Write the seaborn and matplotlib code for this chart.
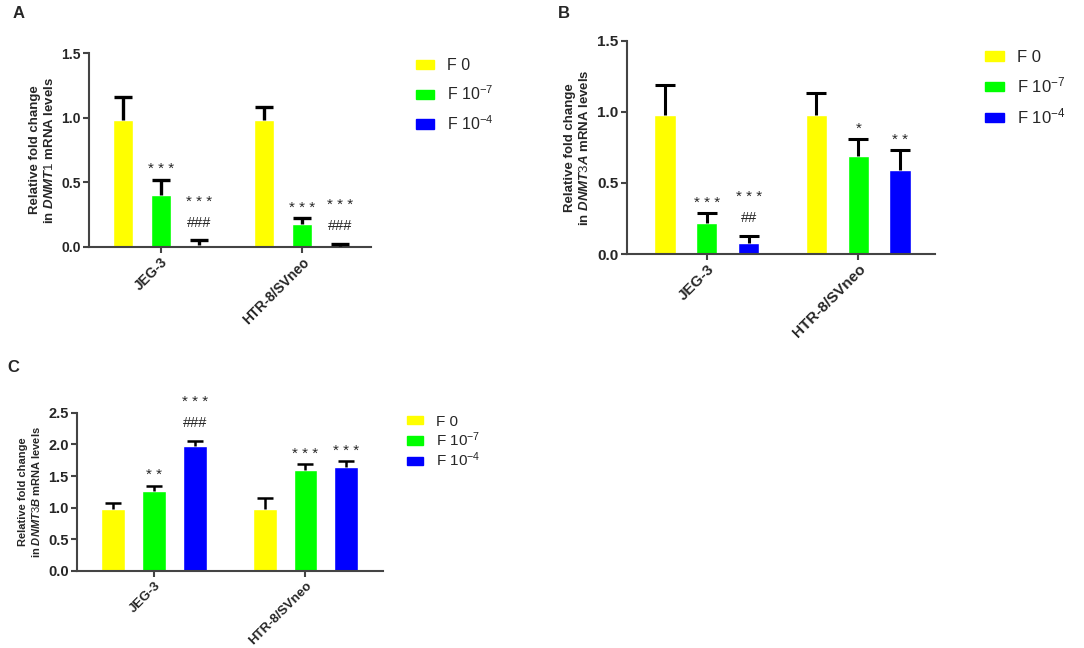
import numpy as np
import pandas as pd
import matplotlib
matplotlib.use("Agg")
import matplotlib.pyplot as plt
import matplotlib.patches as mpatches
import seaborn as sns

# data
cell_lines = ["JEG-3", "HTR-8/SVneo"]
treatments = ["F 0", "F 10$^{-7}$", "F 10$^{-4}$"]
colors = ["#FFFF00", "#00FF00", "#0000FF"]

# rows = cell line, columns = treatment
dnmt1_mean = [[0.98, 0.40, 0.015], [0.98, 0.175, 0.004]]
dnmt1_err = [[0.18, 0.12, 0.035], [0.10, 0.045, 0.022]]
dnmt1_stars = [["", "***", "***"], ["", "***", "***"]]
dnmt1_hash = [["", "", "###"], ["", "", "###"]]

dnmt3a_mean = [[0.98, 0.215, 0.08], [0.98, 0.69, 0.59]]
dnmt3a_err = [[0.21, 0.075, 0.05], [0.15, 0.12, 0.14]]
dnmt3a_stars = [["", "***", "***"], ["", "*", "**"]]
dnmt3a_hash = [["", "", "##"], ["", "", ""]]

dnmt3b_mean = [[0.98, 1.26, 1.98], [0.98, 1.60, 1.65]]
dnmt3b_err = [[0.10, 0.09, 0.08], [0.18, 0.09, 0.08]]
dnmt3b_stars = [["", "**", "***"], ["", "***", "***"]]
dnmt3b_hash = [["", "", "###"], ["", "", ""]]

sns.set_style("ticks")
plt.rcParams['font.family'] = ['Liberation Sans', 'DejaVu Sans']
plt.rcParams['mathtext.fontset'] = 'custom'
plt.rcParams['mathtext.default'] = 'regular'
plt.rcParams['mathtext.rm'] = 'Liberation Sans'
plt.rcParams['mathtext.it'] = 'Liberation Sans:italic:bold'
plt.rcParams['mathtext.bf'] = 'Liberation Sans:bold'


def make_df(means):
    rows = []
    for i, cl in enumerate(cell_lines):
        for j, tr in enumerate(treatments):
            rows.append({"cell": cl, "treatment": tr, "value": means[i][j]})
    return pd.DataFrame(rows)


def draw_panel(ax, means, errs, stars, hashes, gene, ymax, ystep, xlim,
               width, gap, elw, cap, tick_fs, xtick_fs, lab_fs, leg_anchor, leg_fs, leg_space):
    df = make_df(means)
    sns.barplot(data=df, x="cell", y="value", hue="treatment", order=cell_lines,
                hue_order=treatments, palette=colors, errorbar=None,
                width=width, gap=gap, saturation=1, legend=False, ax=ax)
    bars = sorted(ax.patches, key=lambda p: p.get_x())
    xs = np.array([b.get_x() + b.get_width() / 2 for b in bars])
    flat_mean = np.array([v for row in means for v in row])
    flat_err = np.array([v for row in errs for v in row])
    flat_star = [v for row in stars for v in row]
    flat_hash = [v for row in hashes for v in row]
    tops = flat_mean + flat_err
    # upper-only error bars (stem + one cap)
    ax.vlines(xs, flat_mean, tops, color="black", lw=elw, zorder=3)
    ax.plot(xs, tops, ls="none", marker="_", ms=2 * cap, mew=elw, color="black",
            zorder=3, clip_on=False)
    for x, top, s, h in zip(xs, tops, flat_star, flat_hash):
        if h:
            ax.annotate(h, (x, top), xytext=(0, 9.5), textcoords="offset points",
                        ha="center", va="baseline", fontsize=10.5, annotation_clip=False)
            if s:
                ax.annotate(" ".join(s), (x, top), xytext=(0, 25), textcoords="offset points",
                            ha="center", va="baseline", fontsize=11, annotation_clip=False)
        elif s:
            ax.annotate(" ".join(s), (x, top), xytext=(0, 4.5), textcoords="offset points",
                        ha="center", va="baseline", fontsize=11, annotation_clip=False)

    ax.set_ylim(0, ymax)
    ticks = np.arange(0, ymax + 0.001, ystep)
    ax.set_yticks(ticks)
    ax.set_yticklabels([f"{t:.1f}" for t in ticks], fontsize=tick_fs, fontweight="bold")
    ax.set_xlim(*xlim)
    ax.set_xticks([0, 1])
    ax.set_xticklabels(cell_lines, rotation=45, ha="right", rotation_mode="anchor",
                       fontsize=xtick_fs, fontweight="bold")
    ax.set_xlabel("")
    ax.set_ylabel("Relative fold change\nin $\\mathit{" + gene + "}$ mRNA levels",
                  fontsize=lab_fs, fontweight="bold", labelpad=4)
    sns.despine(ax=ax)
    for sp in ["left", "bottom"]:
        ax.spines[sp].set_linewidth(1.5)
        ax.spines[sp].set_color("#444444")
    ax.tick_params(axis="both", width=1.5, length=4, color="#444444", pad=2)

    handles = [mpatches.Patch(color=c) for c in colors]
    ax.legend(handles, treatments, loc="center left", bbox_to_anchor=leg_anchor,
              bbox_transform=ax.figure.transFigure, frameon=False, fontsize=leg_fs,
              handlelength=1.1, handleheight=0.5, handletextpad=0.8,
              labelspacing=leg_space, borderpad=0, borderaxespad=0)


fig = plt.figure(figsize=(10.84, 6.48), dpi=100)

axA = fig.add_axes([0.0821, 0.619, 0.260, 0.299])
draw_panel(axA, dnmt1_mean, dnmt1_err, dnmt1_stars, dnmt1_hash, "DNMT1", 1.5, 0.5,
           (-0.51, 1.49), 0.81, 0.48, 2.4, 6.5, 10, 10, 9.5, (0.384, 0.853), 11.5, 0.7)

axB = fig.add_axes([0.578, 0.608, 0.285, 0.329])
draw_panel(axB, dnmt3a_mean, dnmt3a_err, dnmt3a_stars, dnmt3a_hash, "DNMT3A", 1.5, 0.5,
           (-0.53, 1.51), 0.83, 0.49, 2.2, 7, 11, 11, 9.5, (0.909, 0.864), 12, 0.65)

axC = fig.add_axes([0.071, 0.119, 0.282, 0.244])
draw_panel(axC, dnmt3b_mean, dnmt3b_err, dnmt3b_stars, dnmt3b_hash, "DNMT3B", 2.5, 0.5,
           (-0.51, 1.51), 0.81, 0.415, 1.8, 6, 10.5, 9.5, 8, (0.375, 0.318), 11, 0.12)

fig.text(13 / 1084, 1 - 14 / 648, "A", fontsize=12, fontweight="bold", ha="left", va="center")
fig.text(558 / 1084, 1 - 14 / 648, "B", fontsize=12, fontweight="bold", ha="left", va="center")
fig.text(7 / 1084, 1 - 367 / 648, "C", fontsize=12, fontweight="bold", ha="left", va="center")

fig.savefig("out.png", dpi=100)
